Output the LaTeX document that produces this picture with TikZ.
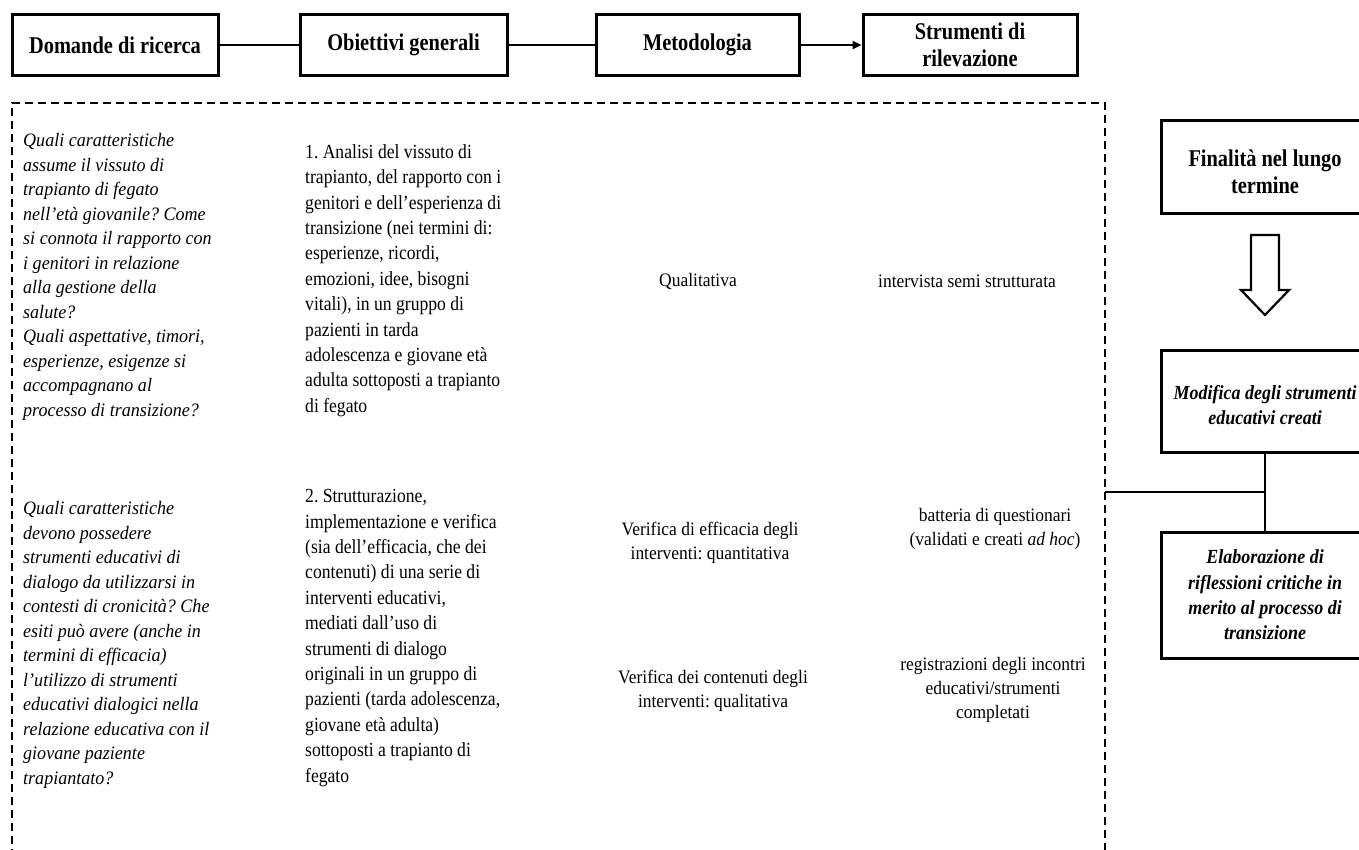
\documentclass[tikz,border=0pt]{standalone}
\usepackage{fontspec}
\setmainfont{Liberation Serif}
% condensed cuts of the serif face
\newfontfamily\headfont[FakeStretch=0.85]{Liberation Serif}
\newfontfamily\qfont[FakeStretch=0.95]{Liberation Serif}
\newfontfamily\aimfont[FakeStretch=0.88]{Liberation Serif}
\newfontfamily\cellfont[FakeStretch=0.92]{Liberation Serif}
\newfontfamily\goalfont[FakeStretch=0.9]{Liberation Serif}
\usetikzlibrary{arrows.meta}
\frenchspacing

\begin{document}
\begin{tikzpicture}[x=1pt, y=-1pt,
  headbox/.style={draw, line width=3pt, inner sep=0pt, align=center,
    minimum height=61pt, font=\headfont\bfseries\fontsize{24}{27}\selectfont},
  goalbox/.style={draw, line width=3pt, inner sep=0pt, align=center,
    minimum width=208pt},
  boxtext/.style={align=center, inner sep=0pt, yshift=#1},
  link/.style={line width=2.4pt},
  thinlink/.style={line width=1.4pt},
  question/.style={inner sep=0pt, anchor=west, align=left,
    font=\qfont\itshape\fontsize{19}{24.5}\selectfont},
  aim/.style={inner sep=0pt, anchor=west, align=left,
    font=\aimfont\fontsize{20}{25.4}\selectfont},
  cell/.style={inner sep=0pt, align=center,
    font=\cellfont\fontsize{19}{24}\selectfont}]

\useasboundingbox (0,0) rectangle (1359,849);
\clip (0,0) rectangle (1359,849);
\fill[white] (0,0) rectangle (1359,849);

% column headings
\node[headbox, minimum width=206pt] (dom) at (115,45) {Domande di ricerca};
\node[headbox, minimum width=207pt] (obi) at (403.5,45) {Obiettivi generali};
\node[headbox, minimum width=203pt] (met) at (697.5,45) {Metodologia};
\node[headbox, minimum width=214pt] (str) at (970,45) {Strumenti di\\rilevazione};

\draw[link] (dom.east) -- (obi.west);
\draw[link] (obi.east) -- (met.west);
\draw[link, -{Triangle[length=9pt, width=8pt]}] (met.east) -- (str.west);

% dashed frame around the research design
\coordinate (frameTL) at (12,103);
\coordinate (frameTR) at (1105,103);
\draw[line width=2.8pt, dash pattern=on 8pt off 5pt]
  (frameTL |- 0,870) -- (frameTL) -- (frameTR) -- (frameTR |- 0,870);

% research questions
\node[question] (q1) at (23,277) {Quali caratteristiche\\assume il vissuto di\\trapianto di fegato\\nell’età giovanile? Come\\si connota il rapporto con\\i genitori in relazione\\alla gestione della\\salute?\\Quali aspettative, timori,\\esperienze, esigenze si\\accompagnano al\\processo di transizione?};
\node[question] (q2) at (23,645) {Quali caratteristiche\\devono possedere\\strumenti educativi di\\dialogo da utilizzarsi in\\contesti di cronicità? Che\\esiti può avere (anche in\\termini di efficacia)\\l’utilizzo di strumenti\\educativi dialogici nella\\relazione educativa con il\\giovane paziente\\trapiantato?};

% general aims
\node[aim] (o1) at (305,280.5) {1. Analisi del vissuto di\\trapianto, del rapporto con i\\genitori e dell’esperienza di\\transizione (nei termini di:\\esperienze, ricordi,\\emozioni, idee, bisogni\\vitali), in un gruppo di\\pazienti in tarda\\adolescenza e giovane età\\adulta sottoposti a trapianto\\di fegato};
\node[aim] (o2) at (305,638) {2. Strutturazione,\\implementazione e verifica\\(sia dell’efficacia, che dei\\contenuti) di una serie di\\interventi educativi,\\mediati dall’uso di\\strumenti di dialogo\\originali in un gruppo di\\pazienti (tarda adolescenza,\\giovane età adulta)\\sottoposti a trapianto di\\fegato};

% methodology
\node[cell] (m1) at (698,281) {Qualitativa};
\node[cell] (m2) at (710,543) {Verifica di efficacia degli\\interventi: quantitativa};
\node[cell] (m3) at (713,691) {Verifica dei contenuti degli\\interventi: qualitativa};

% survey instruments
\node[cell] (s1) at (967,281) {intervista semi strutturata};
\node[cell] (s2) at (995,529) {batteria di questionari\\(validati e creati \textit{ad hoc})};
\node[cell] (s3) at (993,690) {registrazioni degli incontri\\educativi/strumenti\\completati};

% long-term goals
\node[goalbox, minimum height=93pt,
  label={[boxtext=-5pt, font=\headfont\bfseries\fontsize{24}{27}\selectfont]center:Finalità nel lungo\\termine}]
  (fin) at (1265,166.5) {};
\node[goalbox, minimum height=102pt,
  label={[boxtext=-4pt, font=\goalfont\bfseries\itshape\fontsize{20}{25}\selectfont]center:Modifica degli strumenti\\educativi creati}]
  (mod) at (1265,401) {};
\node[goalbox, minimum height=126pt, font=\goalfont\bfseries\itshape\fontsize{20}{25.3}\selectfont]
  (ela) at (1265,595) {Elaborazione di\\riflessioni critiche in\\merito al processo di\\transizione};

% hollow block arrow
\draw[line width=2.2pt, line join=miter]
  (1251,235) -- (1279,235) -- (1279,290) -- (1289,290) -- (1265,315)
  -- (1241,290) -- (1251,290) -- cycle;

% link from the frame to the goals
\coordinate (frameJoin) at (1105,492);
\draw[thinlink] (mod.south) -- (ela.north);
\draw[thinlink] (frameJoin) -- (frameJoin -| mod.south);

\end{tikzpicture}
\end{document}
